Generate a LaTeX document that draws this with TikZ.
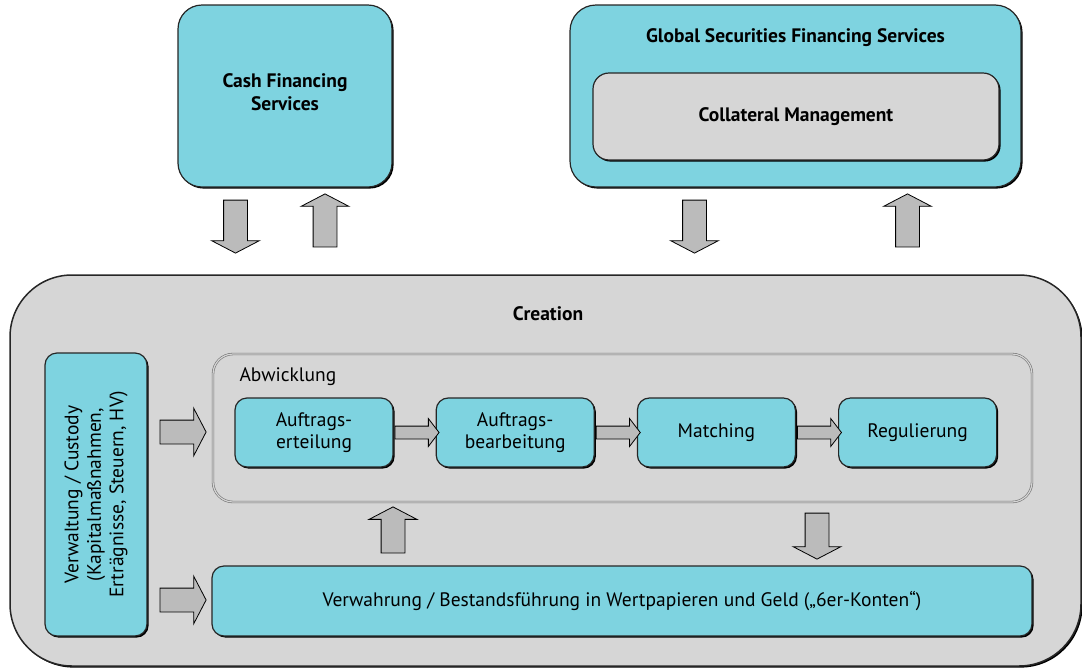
\documentclass[tikz,border=0pt]{standalone}
\usepackage{fontspec}
\setmainfont{PT Sans}
\usetikzlibrary{positioning,shapes.arrows,shadows}

\definecolor{boxcyan}{RGB}{126,211,224}
\definecolor{boxgray}{RGB}{214,214,214}
\definecolor{arrowgray}{RGB}{187,187,187}
\newcommand{\diafont}{\fontsize{19.5}{22.5}\selectfont}
\newcommand{\diabold}{\fontsize{19.5}{23}\selectfont\bfseries}

\tikzset{
  boxshadow/.style={drop shadow={shadow xshift=1.6pt, shadow yshift=-1.6pt, fill=black, opacity=1}},
  cyanbox/.style={draw=black!85, line width=1.2pt, fill=boxcyan, rounded corners=12pt,
    align=center, font=\diafont, boxshadow},
  graybox/.style={draw=black!85, line width=1.2pt, fill=boxgray, rounded corners=16pt,
    align=center, font=\diabold, boxshadow},
  blockarrow/.style={single arrow, draw=black, fill=arrowgray, line width=0.8pt,
    inner xsep=0pt, inner ysep=11.5pt, minimum width=0pt, minimum height=#1,
    single arrow head extend=12pt, single arrow tip angle=125},
  smallarrow/.style={single arrow, draw=black, fill=arrowgray, line width=0.8pt,
    inner xsep=0pt, inner ysep=6pt, minimum width=0pt, minimum height=44pt,
    single arrow head extend=7.5pt, single arrow tip angle=105},
}

\begin{document}
\begin{tikzpicture}[x=1pt, y=-1pt]
    \useasboundingbox (0,0) rectangle (1082,670);

    % Top services
    \node[cyanbox, rounded corners=24pt, minimum width=214pt, minimum height=182pt]
        (cash) at (285,96) {};
    \node[font=\diabold, align=center] (cashtitle) at (285,92) {Cash Financing\\Services};
    \node[cyanbox, rounded corners=26pt, minimum width=451pt, minimum height=182pt]
        (gsf) at (795.5,96) {};
    \node[font=\diabold] (gsftitle) at (795.5,38) {Global Securities Financing Services};
    \node[graybox, minimum width=406pt, minimum height=87pt] (coll) at (796,116.5) {Collateral Management};

    % Arrows between services and Creation
    \node[blockarrow=53pt, rotate=-90] (cashin)  at (235.5,223.5) {};
    \node[blockarrow=53pt, rotate=90]  (cashout) at (325,223.5) {};
    \node[blockarrow=53pt, rotate=-90] (gsfin)   at (694.5,223.5) {};
    \node[blockarrow=53pt, rotate=90]  (gsfout)  at (907.5,223.5) {};

    % Creation
    \node[graybox, rounded corners=62pt, line width=1.5pt, minimum width=1071pt, minimum height=391pt]
        (creation) at (545.5,470.5) {};
    \node[font=\diabold] (creationtitle) at (548,314) {Creation};

    % Custody
    \node[cyanbox, rotate=90, minimum width=283pt, minimum height=102pt]
        (custody) at (96,494.5) {Verwaltung / Custody\\(Kapitalmaßnahmen,\\Erträgnisse, Steuern, HV)};

    % Abwicklung
    \node[draw=black!55, double=boxgray, double distance=1.2pt, line width=0.6pt, rounded corners=20pt,
        minimum width=819pt, minimum height=148pt] (abw) at (622.5,428) {};
    \node[font=\diafont, anchor=west] (abwtitle) at (236,377) {Abwicklung};

    \node[cyanbox, minimum width=158pt, minimum height=69pt] (erteil) at (314,432.5) {Auftrags-\\erteilung};
    \node[cyanbox, minimum width=158pt, minimum height=69pt, right=42pt of erteil] (bearb) {Auftrags-\\bearbeitung};
    \node[cyanbox, minimum width=158pt, minimum height=69pt, right=42pt of bearb] (match) {Matching};
    \node[cyanbox, minimum width=158pt, minimum height=69pt, right=42pt of match] (regul) {Regulierung};

    \path (erteil) -- (bearb) node[midway, smallarrow] (a1) {};
    \path (bearb) -- (match) node[midway, smallarrow] (a2) {};
    \path (match) -- (regul) node[midway, smallarrow] (a3) {};

    % Verwahrung
    \node[cyanbox, minimum width=820pt, minimum height=70pt] (verw) at (622,601)
        {Verwahrung / Bestandsführung in Wertpapieren und Geld („6er-Konten“)};

    % Arrows inside Creation
    \node[blockarrow=46pt] (custabw)  at (180,432) {};
    \node[blockarrow=46pt] (custverw) at (180,600) {};
    \node[blockarrow=46pt, rotate=90]  (verwup)  at (393,533) {};
    \node[blockarrow=46pt, rotate=-90] (abwdown) at (817,533) {};
\end{tikzpicture}
\end{document}
